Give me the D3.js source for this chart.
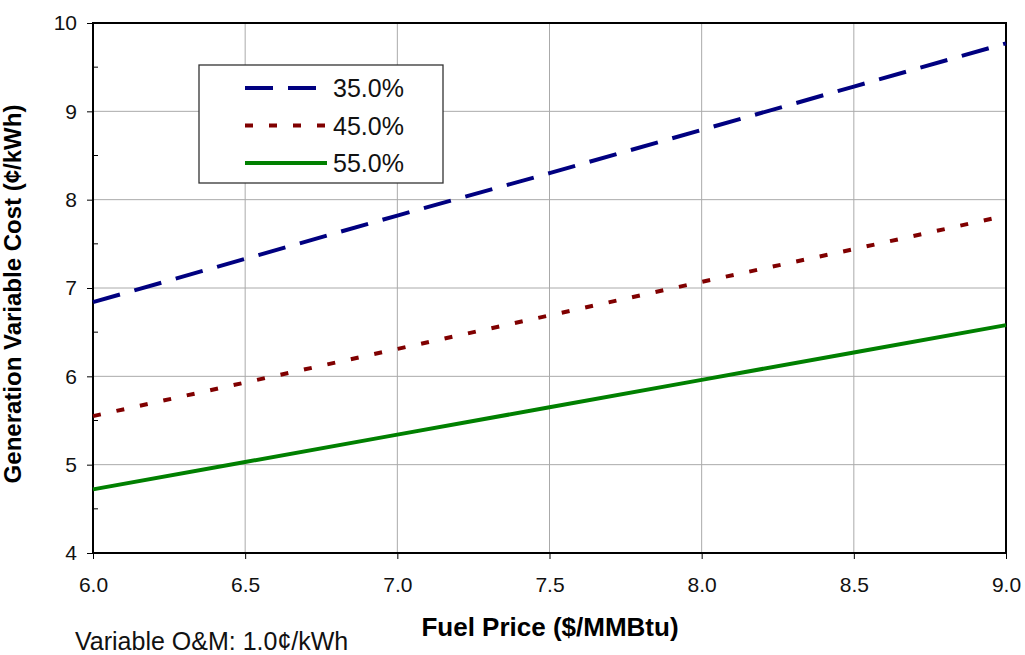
<!DOCTYPE html>
<html>
<head>
<meta charset="utf-8">
<script src="https://cdn.jsdelivr.net/npm/d3@7"></script>
<style>
  body { margin: 0; background: #fff; }
  svg { font-family: "Liberation Sans", Arial, sans-serif; }
</style>
</head>
<body>
<svg width="1025" height="655"></svg>
<script>
const fuelPrice = [6.0, 6.5, 7.0, 7.5, 8.0, 8.5, 9.0];
const eff35 = [6.84, 7.33, 7.82, 8.30, 8.79, 9.28, 9.77];
const eff45 = [5.55, 5.93, 6.31, 6.69, 7.07, 7.44, 7.82];
const eff55 = [4.72, 5.03, 5.34, 5.65, 5.96, 6.27, 6.58];
const seriesNames = ['35.0%', '45.0%', '55.0%'];
const xTicks = [6.0, 6.5, 7.0, 7.5, 8.0, 8.5, 9.0];
const yTicks = [4, 5, 6, 7, 8, 9, 10];

const series = [
  {name: seriesNames[0], values: eff35, color: '#000080', dash: '28,15'},
  {name: seriesNames[1], values: eff45, color: '#800000', dash: '8,16'},
  {name: seriesNames[2], values: eff55, color: '#008000', dash: null}
];

const margin = {top: 23, right: 19, bottom: 102, left: 93},
      width = 1025 - margin.left - margin.right,
      height = 655 - margin.top - margin.bottom;

const svg = d3.select('svg');
const g = svg.append('g')
    .attr('transform', `translate(${margin.left},${margin.top})`);

//--------------SCALES---------------------------------------
const x = d3.scaleLinear().domain([6, 9]).range([0, width]);
const y = d3.scaleLinear().domain([4, 10]).range([height, 0]);

//--------------GRID----------------------------------------
g.append('g').selectAll('line')
  .data(xTicks.slice(1, -1))
  .enter().append('line')
    .attr('x1', d => x(d)).attr('x2', d => x(d))
    .attr('y1', 0).attr('y2', height)
    .attr('stroke', '#aaa').attr('stroke-width', 1);

g.append('g').selectAll('line')
  .data(yTicks.slice(1, -1))
  .enter().append('line')
    .attr('x1', 0).attr('x2', width)
    .attr('y1', d => y(d)).attr('y2', d => y(d))
    .attr('stroke', '#aaa').attr('stroke-width', 1);

//--------------AXES----------------------------------------
const xAxis = g.append('g')
    .attr('transform', `translate(0,${height})`)
    .call(d3.axisBottom(x).tickValues(xTicks).tickFormat(d3.format('.1f')).tickSizeInner(6).tickSizeOuter(0));
xAxis.select('.domain').remove();
xAxis.selectAll('text').attr('y', 39).attr('dy', null).attr('font-size', 21).attr('fill', '#111');

const yAxis = g.append('g')
    .call(d3.axisLeft(y).tickValues(yTicks).tickFormat(d3.format('d')).tickSizeInner(6).tickSizeOuter(0));
yAxis.select('.domain').remove();
yAxis.selectAll('text').attr('x', -16).attr('font-size', 21).attr('fill', '#111');

// minor ticks on y
g.append('g').selectAll('line')
  .data(d3.range(4.5, 10, 1))
  .enter().append('line')
    .attr('x1', 0).attr('x2', 5)
    .attr('y1', d => y(d)).attr('y2', d => y(d))
    .attr('stroke', '#000');

// frame
g.append('rect')
    .attr('width', width).attr('height', height)
    .attr('fill', 'none').attr('stroke', '#000').attr('stroke-width', 2);

//--------------LINES----------------------------------------
const line = d3.line()
    .x((d, i) => x(fuelPrice[i]))
    .y(d => y(d));

g.selectAll('.series')
  .data(series)
  .enter().append('path')
    .attr('class', 'series')
    .attr('fill', 'none')
    .attr('stroke', d => d.color)
    .attr('stroke-width', 4)
    .attr('stroke-dasharray', d => d.dash)
    .attr('d', d => line(d.values));

//--------------LEGEND----------------------------------------
const legend = svg.append('g').attr('transform', 'translate(199,65)');
legend.append('rect')
    .attr('width', 244).attr('height', 118)
    .attr('fill', '#fff').attr('stroke', '#333').attr('stroke-width', 1.3);

const items = legend.selectAll('.item')
  .data(series)
  .enter().append('g')
    .attr('transform', (d, i) => `translate(0,${23 + i * 37.5})`);
items.append('line')
    .attr('x1', 46).attr('x2', 128)
    .attr('stroke', d => d.color)
    .attr('stroke-width', 4)
    .attr('stroke-dasharray', d => d.dash);
items.append('text')
    .attr('x', 134).attr('dy', '0.36em')
    .attr('font-size', 25).attr('fill', '#111')
    .text(d => d.name);

//--------------TITLES----------------------------------------
svg.append('text')
    .attr('x', 550).attr('y', 636)
    .attr('text-anchor', 'middle')
    .attr('font-size', 26).attr('font-weight', 'bold')
    .text('Fuel Price ($/MMBtu)');

svg.append('text')
    .attr('transform', 'translate(21,294) rotate(-90)')
    .attr('text-anchor', 'middle')
    .attr('font-size', 24).attr('font-weight', 'bold')
    .text('Generation Variable Cost (¢/kWh)');

svg.append('text')
    .attr('x', 75).attr('y', 650)
    .attr('font-size', 25).attr('fill', '#111')
    .text('Variable O&M: 1.0¢/kWh');
</script>
</body>
</html>
